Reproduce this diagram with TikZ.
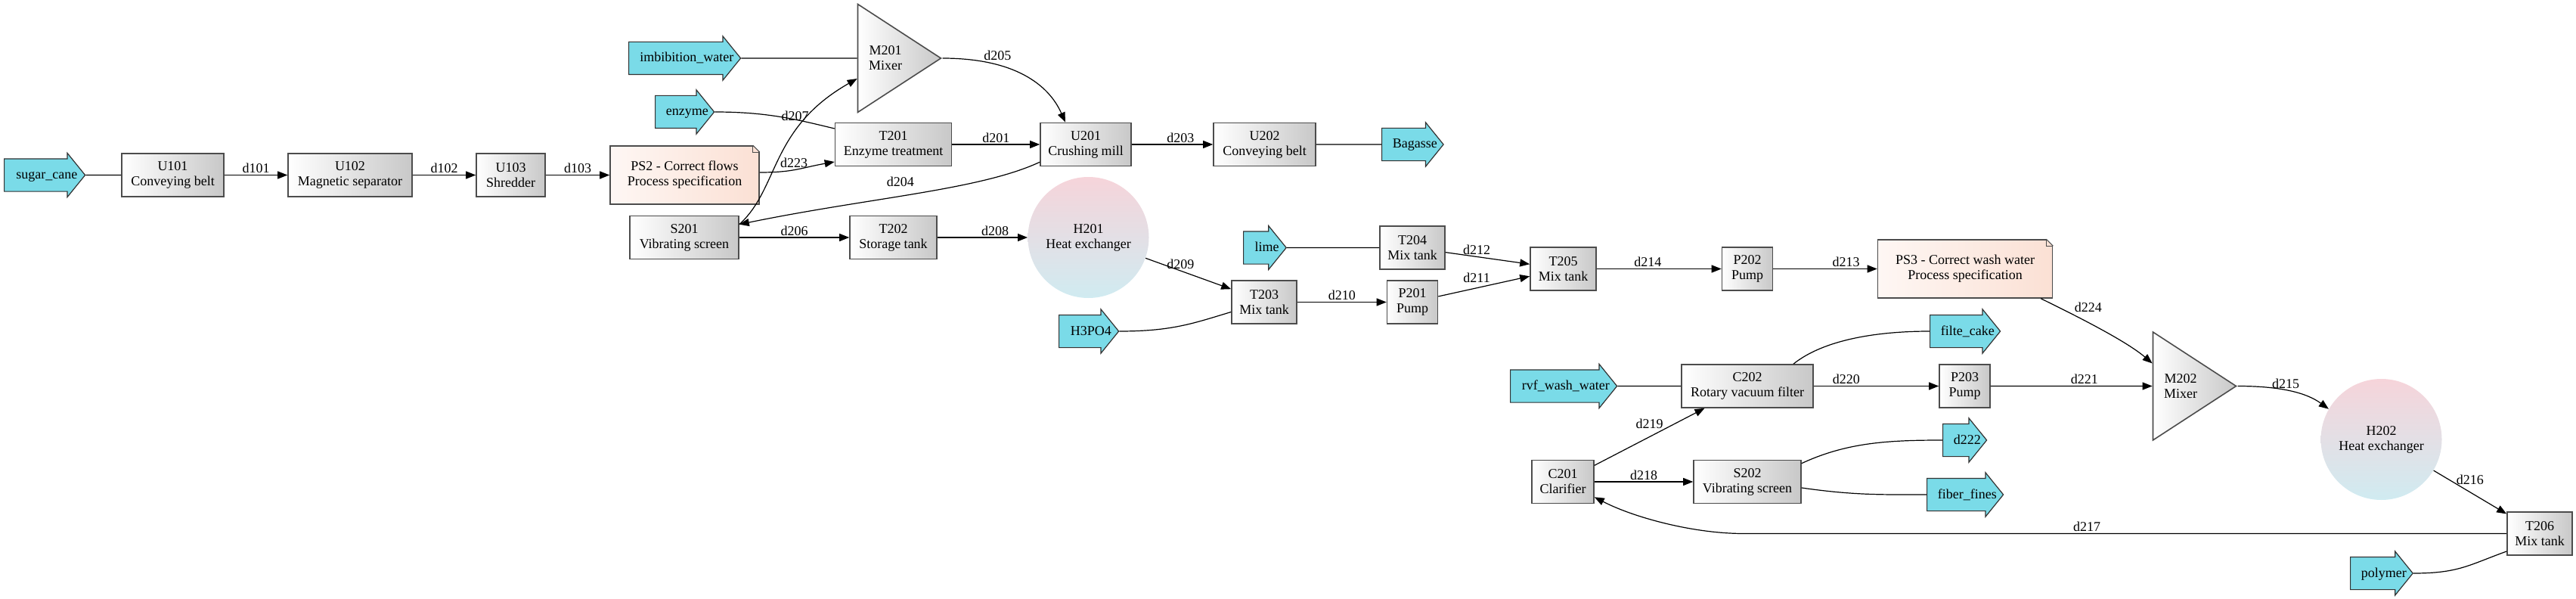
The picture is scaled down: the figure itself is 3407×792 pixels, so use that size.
\documentclass[tikz,border=0pt]{standalone}
\usepackage{fontspec}
\setmainfont{Liberation Serif}
\usepackage{tikz}
\usetikzlibrary{positioning, shapes.geometric, shapes.arrows, arrows.meta}

\definecolor{streamCyan}{RGB}{122,219,232}
\definecolor{unitGray}{RGB}{200,200,200}
\definecolor{specLeft}{RGB}{254,247,244}
\definecolor{specRight}{RGB}{251,224,212}
\definecolor{hxTop}{RGB}{246,212,218}
\definecolor{hxBottom}{RGB}{208,235,241}

\tikzstyle{unitNode}=[draw=black!70, line width=0.8pt, rectangle, left color=white, right color=unitGray, minimum height=28.5pt, inner sep=0pt, align=center, font=\fontsize{9}{10}\selectfont]
\tikzstyle{specNode}=[draw=black!70, line width=0.8pt, rectangle, left color=specLeft, right color=specRight, minimum height=38.5pt, inner sep=0pt, align=center, font=\fontsize{9}{10}\selectfont]
\tikzstyle{hxNode}=[circle, top color=hxTop, bottom color=hxBottom, minimum size=80pt, inner sep=0pt, align=center, font=\fontsize{9}{10}\selectfont]
\tikzstyle{mixNode}=[isosceles triangle, isosceles triangle stretches, draw=black!70, line width=0.8pt, left color=white, right color=unitGray, minimum width=71.5pt, minimum height=55pt, inner sep=0pt, align=center, font=\fontsize{9}{10}\selectfont]
\tikzstyle{streamNode}=[single arrow, draw=black!80, line width=0.6pt, fill=streamCyan, single arrow head extend=3.75pt, single arrow tip angle=102, minimum width=28.5pt, inner xsep=0pt, inner ysep=6pt, text height=7pt, text depth=2pt, align=center, anchor=tail, execute at begin node={\hspace*{5.75pt}}, execute at end node={\hspace*{-5.75pt}}, font=\fontsize{9}{10}\selectfont]
\tikzstyle{flowEdge}=[-{Triangle[length=6.5pt,width=5pt]}, line width=0.6pt]
\tikzstyle{feedEdge}=[line width=0.6pt]
\tikzstyle{flowLabel}=[inner sep=1pt, font=\fontsize{9}{10}\selectfont]

\newcommand{\notefold}[1]{%
  \fill[white] ([xshift=-4.5pt]#1.north east) -- ([xshift=0.6pt,yshift=0.6pt]#1.north east) -- ([yshift=-4.5pt]#1.north east) -- cycle;
  \draw[black!70, line width=0.6pt] ([xshift=-4.5pt]#1.north east) -- ([yshift=-4.5pt]#1.north east);
  \draw[black!70, line width=0.4pt] ([xshift=-4.5pt]#1.north east) -- ([xshift=-4.5pt,yshift=-4.5pt]#1.north east) -- ([yshift=-4.5pt]#1.north east);
}

\begin{document}
\begin{tikzpicture}[x=0.5pt, y=-0.5pt]
    \useasboundingbox (0,0) rectangle (3407,792);

    % units
    \node[unitNode, minimum width=67.5pt] (U101) at (228.5,231.5) {U101\\Conveying belt};
    \node[unitNode, minimum width=82pt] (U102) at (463,231.5) {U102\\Magnetic separator};
    \node[unitNode, minimum width=45.5pt] (U103) at (675.5,231.5) {U103\\Shredder};
    \node[specNode, minimum width=98.5pt] (PS2) at (905.5,231.5) {PS2 - Correct flows\\Process specification};
    \node[mixNode] (M201) at (1171,77) {M201\\Mixer};
    \node[unitNode, minimum width=77pt] (T201) at (1181.5,191) {T201\\Enzyme treatment};
    \node[unitNode, minimum width=60pt] (U201) at (1436,191) {U201\\Crushing mill};
    \node[unitNode, minimum width=67.5pt] (U202) at (1672.5,191) {U202\\Conveying belt};
    \node[unitNode, minimum width=72pt] (S201) at (905,314) {S201\\Vibrating screen};
    \node[unitNode, minimum width=57.5pt] (T202) at (1181.5,314) {T202\\Storage tank};
    \node[hxNode] (H201) at (1439.5,314) {H201\\Heat exchanger};
    \node[unitNode, minimum width=43pt] (T203) at (1672,399.5) {T203\\Mix tank};
    \node[unitNode, minimum width=43pt] (T204) at (1868,327.5) {T204\\Mix tank};
    \node[unitNode, minimum width=33.5pt] (P201) at (1868,399.5) {P201\\Pump};
    \node[unitNode, minimum width=43.5pt] (T205) at (2067.5,355.5) {T205\\Mix tank};
    \node[unitNode, minimum width=33.5pt] (P202) at (2311,355.5) {P202\\Pump};
    \node[specNode, minimum width=115.5pt] (PS3) at (2599,355.5) {PS3 - Correct wash water\\Process specification};
    \node[unitNode, minimum width=87pt] (C202) at (2311,510.5) {C202\\Rotary vacuum filter};
    \node[unitNode, minimum width=33.5pt] (P203) at (2598.5,510.5) {P203\\Pump};
    \node[mixNode] (M202) at (2884,510.5) {M202\\Mixer};
    \node[hxNode] (H202) at (3149.5,581) {H202\\Heat exchanger};
    \node[unitNode, minimum width=41pt] (C201) at (2067,637) {C201\\Clarifier};
    \node[unitNode, minimum width=71pt] (S202) at (2311,637) {S202\\Vibrating screen};
    \node[unitNode, minimum width=43pt] (T206) at (3359,705.5) {T206\\Mix tank};
    \notefold{PS2}
    \notefold{PS3}

    % streams in and out
    \node[streamNode, minimum height=53.5pt, text width=42pt] (sugarCane) at (5,231.5) {sugar\_cane};
    \node[streamNode, minimum height=74pt, text width=62.5pt] (imbWater) at (831,77) {imbibition\_water};
    \node[streamNode, minimum height=39pt, text width=27.5pt] (enzyme) at (866,148) {enzyme};
    \node[streamNode, minimum height=40.75pt, text width=29.25pt] (bagasse) at (1827,191) {Bagasse};
    \node[streamNode, minimum height=28.3pt, text width=16.8pt] (lime) at (1644,327.5) {lime};
    \node[streamNode, minimum height=39.5pt, text width=28pt] (hpo) at (1400,438) {H3PO4};
    \node[streamNode, minimum height=46.5pt, text width=35pt] (filterCake) at (2552,438) {filte\_cake};
    \node[streamNode, minimum height=70.5pt, text width=59pt] (rvfWater) at (1997,510.5) {rvf\_wash\_water};
    \node[streamNode, minimum height=29pt, text width=17.5pt] (out222) at (2569,582) {d222};
    \node[streamNode, minimum height=50.5pt, text width=39pt] (fiberFines) at (2548,654) {fiber\_fines};
    \node[streamNode, minimum height=41.3pt, text width=29.8pt] (polymer) at (3108,758) {polymer};

    % feeds
    \draw[feedEdge] (sugarCane) -- (U101);
    \draw[feedEdge] (imbWater) -- (M201);
    \draw[feedEdge] (enzyme.tip) .. controls +(70,0) and +(-50,-12) .. ([yshift=10.5pt]T201.west);
    \draw[feedEdge] (U202) -- (bagasse);
    \draw[feedEdge] (lime) -- (T204);
    \draw[feedEdge] (hpo.tip) .. controls +(70,0) and +(-50,15) .. ([yshift=-6.5pt]T203.west);
    \draw[feedEdge] (rvfWater) -- (C202);
    \draw[feedEdge] ([xshift=30.5pt]C202.north) .. controls +(40,-32) and +(-70,0) .. (filterCake.tail);
    \draw[feedEdge] ([yshift=-2.5pt]S202.north east) .. controls +(60,-28) and +(-70,0) .. (out222.tail);
    \draw[feedEdge] ([yshift=-4pt]S202.east) .. controls +(70,10) and +(-60,0) .. (fiberFines.tail);
    \draw[feedEdge] (polymer.tip) .. controls +(60,0) and +(-50,18) .. ([yshift=-11.75pt]T206.west);

    % flows
    \draw[flowEdge] (U101) -- node[flowLabel, above] (l101) {d101} (U102);
    \draw[flowEdge] (U102) -- node[flowLabel, above] (l102) {d102} (U103);
    \draw[flowEdge] (U103) -- node[flowLabel, above] (l103) {d103} (PS2);
    \draw[flowEdge] ([yshift=1.75pt]PS2.east) .. controls +(45,0) and +(-45,8) .. node[flowLabel, pos=0.45, above] (l223) {d223} ([yshift=-11.5pt]T201.west);
    \draw[flowEdge] ([yshift=-6pt]S201.north east) .. controls +(53,-48) and +(-116,66) .. node[flowLabel, pos=0.76, xshift=-9pt] (l207) {d207} ([yshift=-13.5pt]M201.west);
    \draw[flowEdge] (M201.apex) .. controls +(95,0) and +(-22,-50) .. node[flowLabel, pos=0.3, above=2pt] (l205) {d205} ([xshift=-13.5pt]U201.north);
    \draw[flowEdge] (T201) -- node[flowLabel, above] (l201) {d201} (U201);
    \draw[flowEdge] (U201) -- node[flowLabel, pos=0.6, above] (l203) {d203} (U202);
    \draw[flowEdge] ([yshift=3pt]U201.south west) .. controls +(-79.5,37) and +(173,-35.5) .. node[flowLabel, pos=0.55, above=5pt] (l204) {d204} ([yshift=-6pt]S201.north east);
    \draw[flowEdge] (S201) -- node[flowLabel, above] (l206) {d206} (T202);
    \draw[flowEdge] (T202) -- node[flowLabel, pos=0.64, above] (l208) {d208} (H201);
    \draw[flowEdge] (H201) -- node[flowLabel, pos=0.41, above] (l209) {d209} ([yshift=-6pt]T203.north west);
    \draw[flowEdge] (T203) -- node[flowLabel, above] (l210) {d210} (P201);
    \draw[flowEdge] (P201) -- node[flowLabel, pos=0.42, above=2pt] (l211) {d211} (T205);
    \draw[flowEdge] (T204) -- node[flowLabel, pos=0.37, above] (l212) {d212} (T205);
    \draw[flowEdge] (T205) -- node[flowLabel, pos=0.41, above] (l214) {d214} (P202);
    \draw[flowEdge] (P202) -- node[flowLabel, pos=0.7, above] (l213) {d213} (PS3);
    \draw[flowEdge] ([xshift=-8pt]PS3.south east) .. controls +(45,22) and +(-35,-30) .. node[flowLabel, pos=0.28, above right] (l224) {d224} ([yshift=15pt]M202.west);
    \draw[flowEdge] (C201) -- node[flowLabel, midway, above=4pt] (l219) {d219} (C202);
    \draw[flowEdge] (C201) -- node[flowLabel, above] (l218) {d218} (S202);
    \draw[flowEdge] (C202) -- node[flowLabel, pos=0.26, above] (l220) {d220} (P203);
    \draw[flowEdge] (P203) -- node[flowLabel, pos=0.58, above] (l221) {d221} (M202);
    \draw[flowEdge] (M202.apex) .. controls +(55,0) and +(-30,-22) .. node[flowLabel, pos=0.45, above] (l215) {d215} (H202.150);
    \draw[flowEdge] (H202) -- node[flowLabel, midway, above=4pt] (l216) {d216} (T206);
    \draw[flowEdge] (T206.west) -- node[flowLabel, pos=0.55, above] (l217) {d217} ++(-1009.5,0) .. controls +(-66,0) and +(52,27) .. ([yshift=4.5pt]C201.south east);

\end{tikzpicture}
\end{document}
